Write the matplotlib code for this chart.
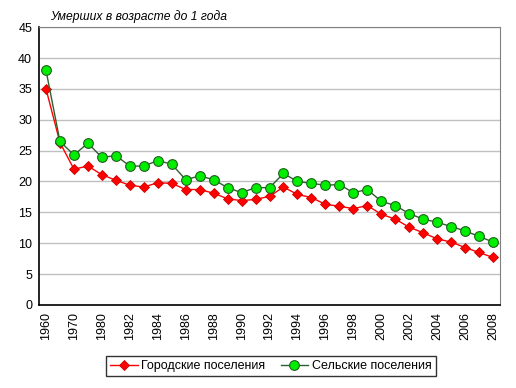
import numpy as np
import matplotlib
matplotlib.use('Agg')
from matplotlib import pyplot as plt

plt.rcParams['font.family'] = ['Liberation Sans', 'DejaVu Sans']

# Data
years = ['1960', '1965', '1970', '1975'] + [str(y) for y in range(1980, 2009)]
city = [35.0, 26.3, 22.0, 22.5, 21.1, 20.2, 19.4, 19.1, 19.8, 19.7,
        18.7, 18.7, 18.1, 17.2, 16.9, 17.1, 17.6, 19.1, 17.9, 17.4,
        16.3, 16.0, 15.6, 16.1, 14.7, 13.9, 12.6, 11.7, 10.7, 10.2,
        9.3, 8.5, 7.7]
rural = [38.0, 26.5, 24.3, 26.2, 23.9, 24.2, 22.5, 22.5, 23.4, 22.8,
         20.3, 20.9, 20.3, 19.0, 18.2, 19.0, 19.0, 21.3, 20.0, 19.7,
         19.4, 19.5, 18.2, 18.7, 16.8, 16.1, 14.8, 13.9, 13.4, 12.7,
         12.0, 11.1, 10.2]

fig = plt.figure(figsize=(5.16, 3.88), dpi=100)
ax = fig.add_axes([0.0756, 0.214, 0.8934, 0.716])

x = np.arange(len(years))
ax.plot(x, city, color='red', lw=1, marker='D', markersize=5.5,
        markerfacecolor='red', markeredgecolor='#cc0000', markeredgewidth=0.6,
        label='Городские поселения', zorder=3)
ax.plot(x, rural, color='#2f5f2f', lw=1, marker='o', markersize=7,
        markerfacecolor='#00ee00', markeredgecolor='#1f5f1f', markeredgewidth=0.8,
        label='Сельские поселения', zorder=3)

ax.set_xlim(-0.5, len(years) - 0.5)
ax.set_ylim(0, 45)
ax.set_yticks(np.arange(0, 46, 5))
ax.set_xticks(x[::2])
ax.set_xticklabels(years[::2], rotation=90)
ax.tick_params(axis='both', length=0, labelsize=9, pad=5)
ax.grid(axis='y', color='#c0c0c0', lw=1)
ax.set_axisbelow(True)
for s in ['top', 'right']:
    ax.spines[s].set_color('#808080')
for s in ['left', 'bottom']:
    ax.spines[s].set_color('black')
    ax.spines[s].set_linewidth(1.2)

fig.text(0.097, 0.957, 'Умерших в возрасте до 1 года', style='italic',
         fontsize=8.7, va='center')

leg = fig.legend(loc='center', bbox_to_anchor=(0.525, 0.057), ncol=2,
                 fontsize=9, frameon=True, fancybox=False, edgecolor='black',
                 handlelength=2.2, columnspacing=1.2, borderpad=0.35,
                 handletextpad=0.3)
leg.get_frame().set_linewidth(1)

fig.savefig('out.png', dpi=100)
